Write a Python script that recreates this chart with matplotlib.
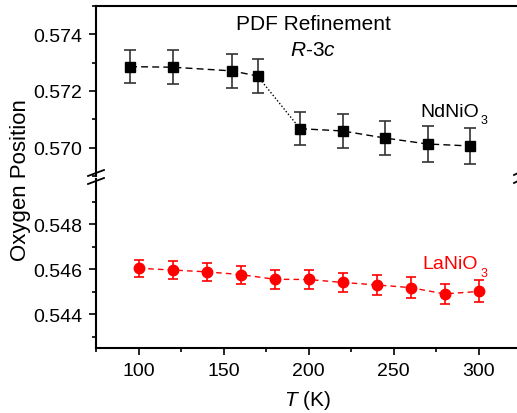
import matplotlib
matplotlib.use("Agg")
import matplotlib.pyplot as plt
from matplotlib.ticker import MultipleLocator, FixedLocator, FormatStrFormatter
from matplotlib.lines import Line2D

plt.rcParams['font.family'] = ['Liberation Sans', 'DejaVu Sans']
plt.rcParams['mathtext.fontset'] = 'custom'
plt.rcParams['mathtext.rm'] = 'Liberation Sans'
plt.rcParams['mathtext.it'] = 'Liberation Sans:italic'

# NdNiO3 data (black squares)
nd_T = [95, 120, 155, 170, 195, 220, 245, 270, 295]
nd_y = [0.57286, 0.57284, 0.57271, 0.57253, 0.57067, 0.57059, 0.57034, 0.57013, 0.57006]
nd_err = [0.00057, 0.00059, 0.00059, 0.00060, 0.00059, 0.00060, 0.00061, 0.00064, 0.00065]

# LaNiO3 data (red circles)
la_T = [100, 120, 140, 160, 180, 200, 220, 240, 260, 280, 300]
la_y = [0.54604, 0.54596, 0.54588, 0.54576, 0.54555, 0.54554, 0.54541, 0.54530, 0.54518, 0.54490, 0.54501]
la_err = [0.00038, 0.00038, 0.00039, 0.00040, 0.00042, 0.00042, 0.00043, 0.00045, 0.00046, 0.00046, 0.00049]

upper_ticks = [0.570, 0.572, 0.574]
lower_ticks = [0.544, 0.546, 0.548]

W, H = 517, 414
fig = plt.figure(figsize=(W/100, H/100), dpi=100)

left = 96 / W
right_px = 96 + 250 * 1.7
width = (right_px - 96) / W
ax_top = fig.add_axes([left, 1 - 177/H, width, (177 - 7)/H])
ax_bot = fig.add_axes([left, 1 - 349/H, width, (349 - 180)/H])

for ax in (ax_top, ax_bot):
    ax.set_xlim(75, 325)
    ax.spines['right'].set_visible(False)
    for s in ax.spines.values():
        s.set_linewidth(1.5)
    ax.tick_params(direction='out', labelsize=14, width=1.2, length=5, pad=5)
    ax.tick_params(which='minor', direction='out', width=1.2, length=3)
    ax.xaxis.set_major_locator(MultipleLocator(50))
    ax.xaxis.set_minor_locator(MultipleLocator(25))
    ax.yaxis.set_major_formatter(FormatStrFormatter('%.3f'))

ax_top.set_ylim(0.569, 0.575)
ax_top.yaxis.set_major_locator(FixedLocator(upper_ticks))
ax_top.yaxis.set_minor_locator(FixedLocator([0.569, 0.571, 0.573, 0.575]))
ax_top.spines['bottom'].set_visible(False)
ax_top.tick_params(axis='x', which='both', bottom=False, labelbottom=False)

ax_bot.set_ylim(0.5425, 0.5500)
ax_bot.yaxis.set_major_locator(FixedLocator(lower_ticks))
ax_bot.yaxis.set_minor_locator(FixedLocator([0.543, 0.545, 0.547, 0.549]))
ax_bot.spines['top'].set_visible(False)

# NdNiO3
ax_top.errorbar(nd_T, nd_y, yerr=nd_err, fmt='none', ecolor='#333333',
                elinewidth=1.2, capsize=4, capthick=1.2)
ax_top.plot(nd_T[:4], nd_y[:4], ls=(0, (5, 3)), color='black', lw=1)
ax_top.plot(nd_T[3:5], nd_y[3:5], ls=(0, (1, 1.5)), color='black', lw=1)
ax_top.plot(nd_T[4:], nd_y[4:], ls=(0, (5, 3)), color='black', lw=1)
ax_top.plot(nd_T, nd_y, 's', color='black', ms=6.5, ls='none')

# LaNiO3
ax_bot.errorbar(la_T, la_y, yerr=la_err, fmt='none', ecolor='red',
                elinewidth=1.2, capsize=3.5, capthick=1.2)
ax_bot.plot(la_T, la_y, ls=(0, (4, 3)), color='red', lw=1)
ax_bot.plot(la_T, la_y, 'o', color='red', ms=7.5, ls='none')

fig.text(308/W, 1 - 401/H, '$T$ (K)', fontsize=15, ha='center', va='center')
fig.text(21/W, 1 - 180/H, 'Oxygen Position', rotation=90, fontsize=16,
         ha='center', va='center')

fig.text(313/W, 1 - 25/H, 'PDF Refinement', fontsize=15, ha='center', va='center')
fig.text(313/W, 1 - 51/H, '$R$-3$c$', fontsize=15, ha='center', va='center')

fig.text(420/W, 1 - 117/H, 'NdNiO', fontsize=14, ha='left', va='baseline')
fig.text(481/W, 1 - 124/H, '3', fontsize=9, ha='left', va='baseline')
fig.text(422/W, 1 - 269/H, 'LaNiO', fontsize=14, ha='left', va='baseline', color='red')
fig.text(481/W, 1 - 277/H, '3', fontsize=9, ha='left', va='baseline', color='red')

# break marks on left spine
for yc in (174, 182):
    fig.add_artist(Line2D([(96 - 8)/W, (96 + 8)/W],
                          [1 - (yc + 3)/H, 1 - (yc - 3)/H],
                          color='black', lw=1.3))
# break marks at right edge
for yc in (174, 182):
    fig.add_artist(Line2D([(514)/W, (522)/W],
                          [1 - (yc + 2)/H, 1 - (yc - 2)/H],
                          color='black', lw=1.3))

fig.savefig('out.png', dpi=100)
